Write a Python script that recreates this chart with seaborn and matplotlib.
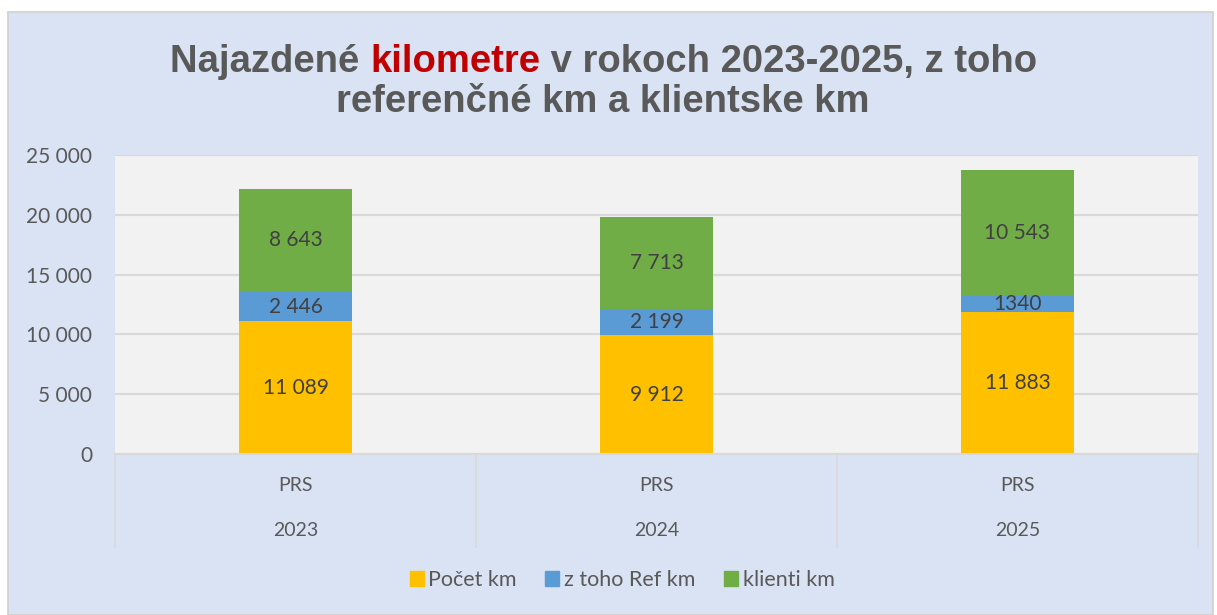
import matplotlib
matplotlib.use("Agg")
import matplotlib.pyplot as plt
import seaborn as sns
import pandas as pd
from matplotlib.patches import Rectangle
from matplotlib.lines import Line2D

# data
years = ["2023", "2024", "2025"]
groups = ["PRS", "PRS", "PRS"]
pocet_km = [11089, 9912, 11883]
ref_km = [2446, 2199, 1340]
klienti_km = [8643, 7713, 10543]
ref_labels = ["2 446", "2 199", "1340"]
series_names = ["Počet km", "z toho Ref km", "klienti km"]
colors = ["#FFC000", "#5B9BD5", "#70AD47"]

TEXT = "#595959"
LABEL = "#404040"
PANEL = "#DAE3F3"

df = pd.DataFrame({"year": years, "pocet": pocet_km, "ref": ref_km, "klienti": klienti_km})
df["top1"] = df["pocet"]
df["top2"] = df["pocet"] + df["ref"]
df["top3"] = df["top2"] + df["klienti"]

sns.set_style("white")
plt.rcParams["font.family"] = ["Lato", "DejaVu Sans"]

fig = plt.figure(figsize=(12.17, 6.15), dpi=100)
fig.patch.set_facecolor("white")
fig.patches.append(Rectangle((8 / 1217, 0), 1205 / 1217, 603 / 615, transform=fig.transFigure,
                             facecolor=PANEL, edgecolor="#D0D0D0", linewidth=1.2, zorder=-5))

ax = fig.add_axes([115 / 1217, 1 - 454 / 615, 1083 / 1217, 299 / 615])
ax.set_facecolor("#F2F2F2")

# stacked bars drawn as cumulative totals, tallest first
bw = 0.313
sns.barplot(data=df, x="year", y="top3", color=colors[2], width=bw, saturation=1, linewidth=0, ax=ax, zorder=2)
sns.barplot(data=df, x="year", y="top2", color=colors[1], width=bw, saturation=1, linewidth=0, ax=ax, zorder=3)
sns.barplot(data=df, x="year", y="top1", color=colors[0], width=bw, saturation=1, linewidth=0, ax=ax, zorder=4)

def fmt(v):
    return f"{v:,}".replace(",", " ")

for i in range(len(years)):
    ax.text(i, pocet_km[i] / 2, fmt(pocet_km[i]), ha="center", va="center", fontsize=15, color=LABEL, zorder=6)
    ax.text(i, pocet_km[i] + ref_km[i] / 2, ref_labels[i], ha="center", va="center", fontsize=15, color=LABEL, zorder=6)
    ax.text(i, df["top2"][i] + klienti_km[i] / 2, fmt(klienti_km[i]), ha="center", va="center", fontsize=15, color=LABEL, zorder=6)

ax.set_ylim(0, 25000)
ax.set_xlim(-0.5, 2.5)
ax.set_yticks(range(0, 25001, 5000))
ax.set_yticklabels([fmt(v) for v in range(0, 25001, 5000)], fontsize=15, color=TEXT)
ax.tick_params(axis="y", length=0, pad=16.5)
ax.set_xticks([])
ax.set_xlabel("")
ax.set_ylabel("")
ax.yaxis.grid(True, color="#D9D9D9", linewidth=1.5, zorder=0)
ax.set_axisbelow(True)
for s in ax.spines.values():
    s.set_visible(False)

# multi-level category axis
trans = ax.get_xaxis_transform()
ax.add_line(Line2D([-0.5, 2.5], [0, 0], transform=trans, color="#D9D9D9", linewidth=1.5, clip_on=False, zorder=5))
for xs in [-0.5, 0.5, 1.5, 2.5]:
    ax.add_line(Line2D([xs, xs], [0, -0.31], transform=trans, color="#D9D9D9", linewidth=1.2, clip_on=False))
for i in range(len(years)):
    ax.text(i, -0.105, groups[i], transform=trans, ha="center", va="center", fontsize=14, color=TEXT)
    ax.text(i, -0.255, years[i], transform=trans, ha="center", va="center", fontsize=14, color=TEXT)

# legend
handles = [Rectangle((0, 0), 1, 1, color=c) for c in colors]
fig.legend(handles, series_names, loc="center", bbox_to_anchor=(622 / 1217, 1 - 580 / 615), ncol=3,
           frameon=False, fontsize=15.5, labelcolor=TEXT, handlelength=0.65, handleheight=0.65,
           handletextpad=0.2, columnspacing=1.35)

# title with one red word
fig.canvas.draw()
renderer = fig.canvas.get_renderer()
title_kw = dict(fontsize=27.5, fontweight="bold", family=["Liberation Sans", "DejaVu Sans"])
parts = [("Najazdené ", TEXT), ("kilometre", "#C00000"), (" v rokoch 2023-2025, z toho", TEXT)]
texts = [fig.text(0, 1 - 62 / 615, p, color=c, va="center", ha="left", **title_kw) for p, c in parts]
widths = [t.get_window_extent(renderer).width for t in texts]
x0 = 604 - sum(widths) / 2
for t, w in zip(texts, widths):
    t.set_x(x0 / 1217)
    x0 += w
fig.text(603 / 1217, 1 - 102 / 615, "referenčné km a klientske km", color=TEXT, ha="center", va="center", **title_kw)

fig.savefig("out.png", dpi=100, facecolor=fig.get_facecolor())
